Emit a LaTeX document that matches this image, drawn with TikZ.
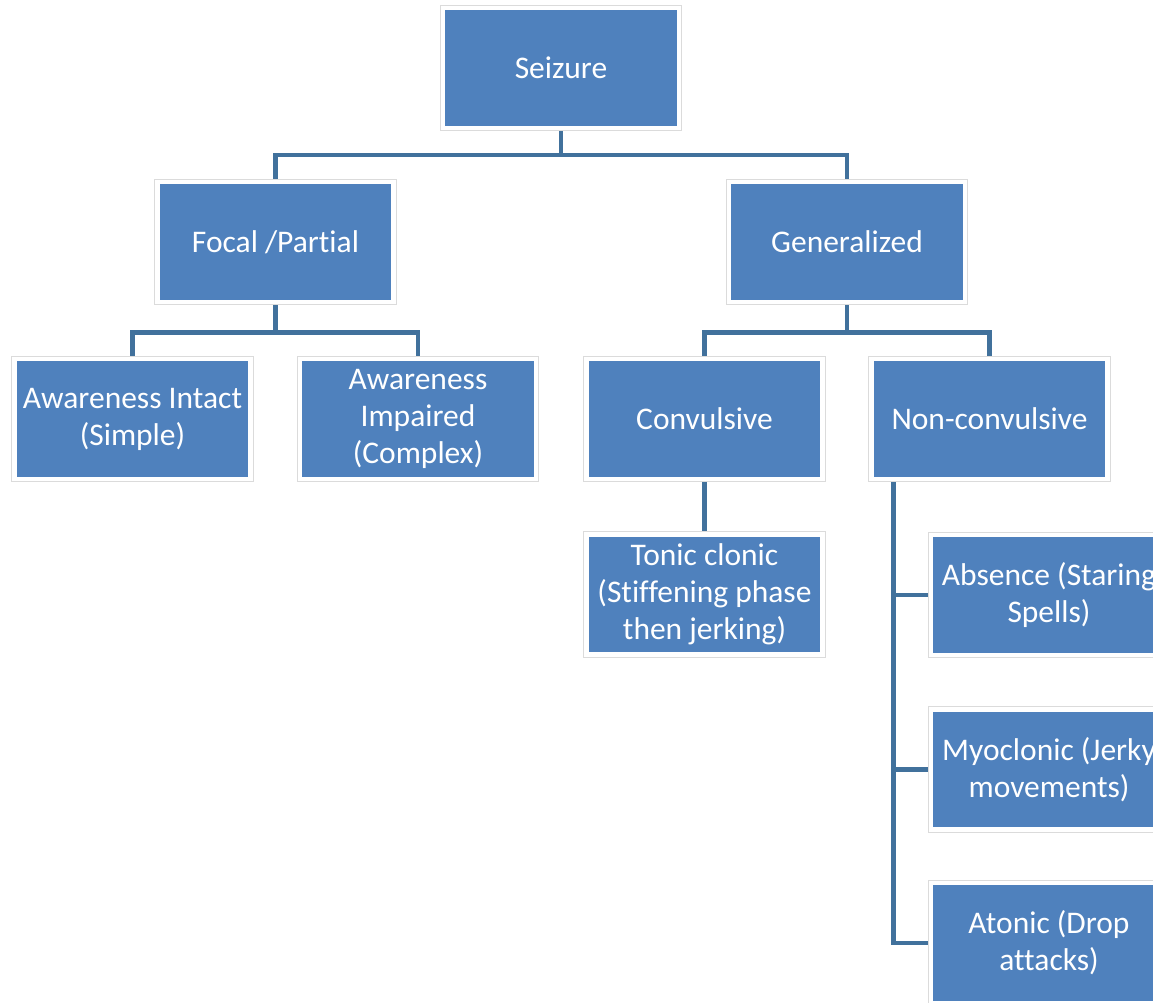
\documentclass[tikz,border=0pt]{standalone}
\usepackage{fontspec}
\setmainfont{Carlito}[Ligatures={NoCommon}]
\usetikzlibrary{positioning, calc, backgrounds}

\definecolor{boxblue}{HTML}{4F81BD}
\definecolor{linkblue}{HTML}{41719C}

\tikzset{
  box/.style={rectangle, fill=boxblue, draw=white, line width=4.5pt,
    preaction={draw=black!14, line width=6.5pt},
    minimum width=236pt, minimum height=120pt, inner sep=0pt,
    text=white, align=center, font=\fontsize{31.5}{37}\selectfont},
  link/.style={draw=linkblue, line width=4.5pt}
}

\begin{document}
\begin{tikzpicture}[x=1pt, y=-1pt]
  \clip (0,0) rectangle (1153,1003);

  % top level
  \node[box] (seizure) at (561,68) {Seizure};

  % second level
  \node[box] (focal)   at (275.5,242) {Focal /Partial};
  \node[box] (general) at (847,242)   {Generalized};

  % third level
  \node[box] (intact)   at (132.5,419) {Awareness Intact\\(Simple)};
  \node[box] (impaired) at (418,419)   {Awareness\\Impaired\\(Complex)};
  \node[box] (convuls)  at (704.5,419) {Convulsive};
  \node[box] (nonconv)  at (989.5,419) {Non-convulsive};

  % leaves
  \node[box] (tonic)     at (704.5,594.5) {Tonic clonic\\(Stiffening phase\\then jerking)};
  \node[box] (absence)   at (1049,595)    {Absence (Staring\\Spells)};
  \node[box] (myoclonic) at (1049,769.5)  {Myoclonic (Jerky\\movements)};
  \node[box] (atonic)    at (1049,943)    {Atonic (Drop\\attacks)};

  \begin{scope}[on background layer]
    \draw[link] (seizure.south) -- ++(0,25) -| (focal.north);
    \draw[link] (seizure.south) -- ++(0,25) -| (general.north);
    \draw[link] (focal.south) -- ++(0,28) -| (intact.north);
    \draw[link] (focal.south) -- ++(0,28) -| (impaired.north);
    \draw[link] (general.south) -- ++(0,28) -| (convuls.north);
    \draw[link] (general.south) -- ++(0,28) -| (nonconv.north);
    \draw[link] (convuls.south) -- (tonic.north);
    \coordinate (nc) at ($(nonconv.south west)+(24,0)$);
    \draw[link] (nc) |- (atonic.west);
    \draw[link] (nc) |- (absence.west);
    \draw[link] (nc) |- (myoclonic.west);
  \end{scope}
\end{tikzpicture}
\end{document}
